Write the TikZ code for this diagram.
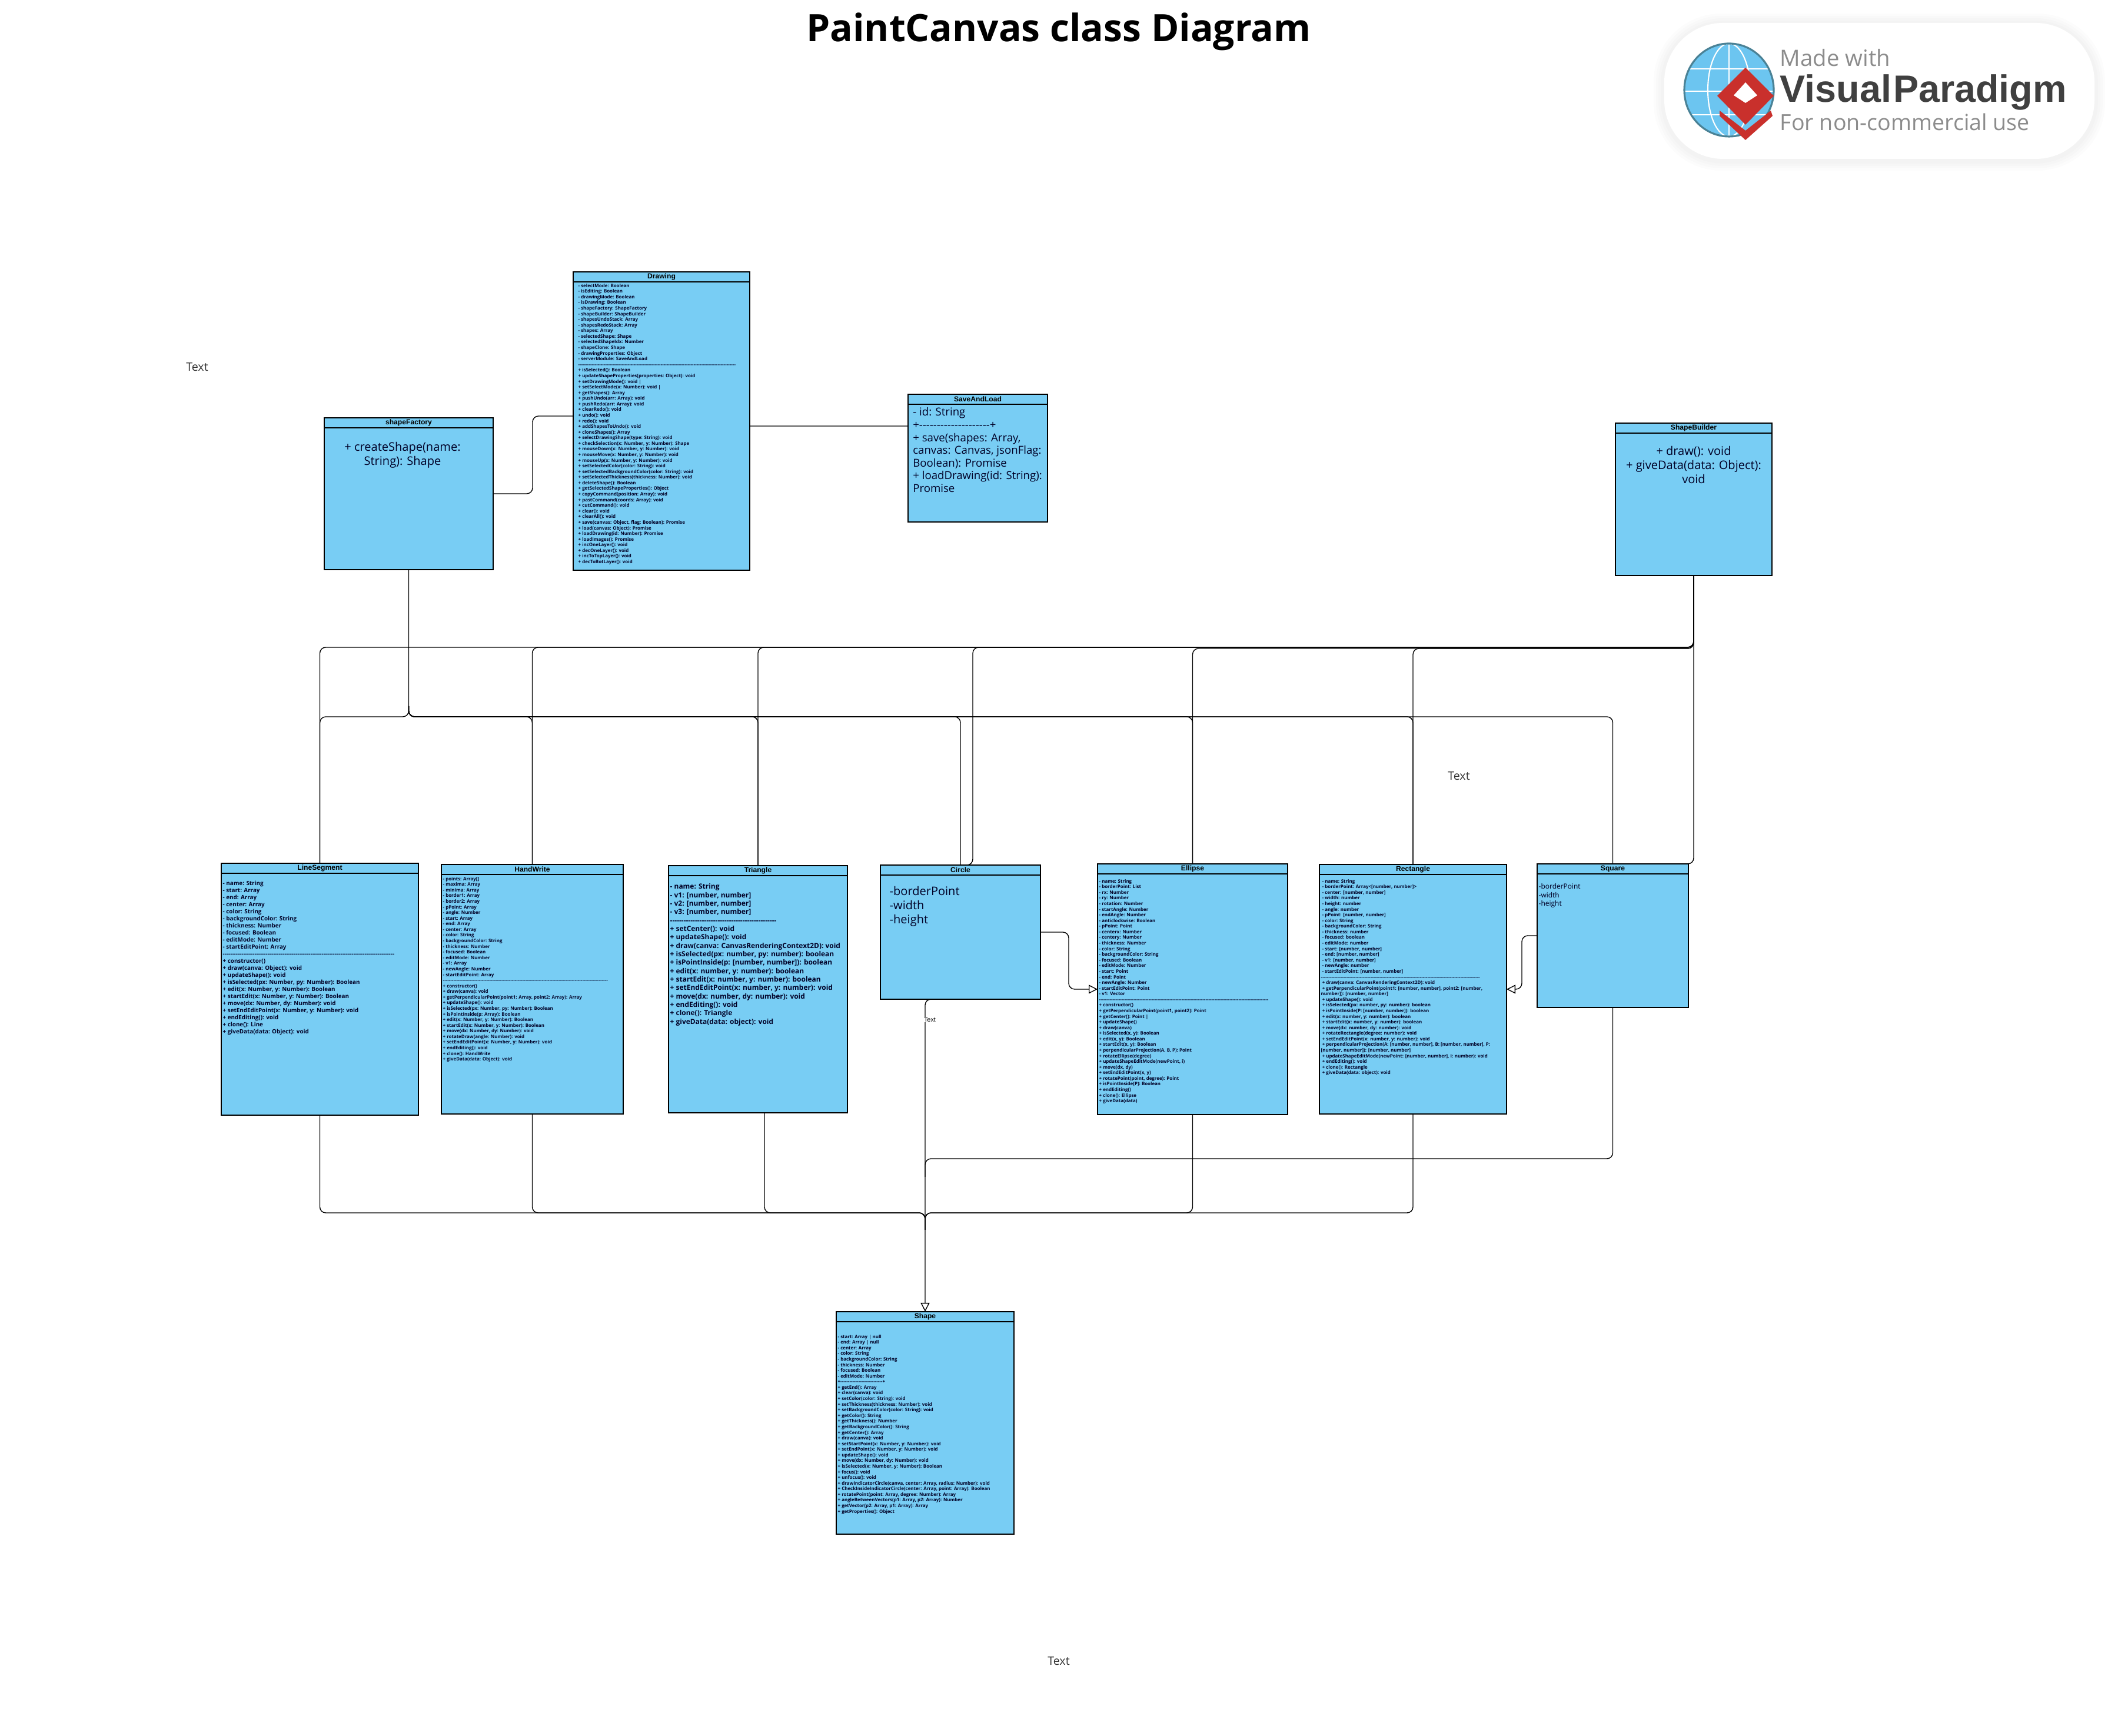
\documentclass[tikz,border=0pt]{standalone}
\usepackage{fontspec}
\newfontfamily\classfont{Open Sans}
\newfontfamily\headfont{Liberation Sans}
\usetikzlibrary{arrows.meta}
\definecolor{classblue}{HTML}{78CDF4}
\definecolor{logoblue}{HTML}{6CC5F0}
\definecolor{logoring}{HTML}{4A8296}
\definecolor{logored}{HTML}{C9302C}
\tikzset{
  classbox/.style={draw=black,fill=classblue,line width=0.6pt,anchor=north west,inner sep=0pt,outer sep=0pt},
  classhead/.style={draw=black,fill=classblue,line width=0.6pt,anchor=north,inner sep=0pt,outer sep=0pt,minimum height=0.17cm,font=\headfont\bfseries\fontsize{3.45}{4}\selectfont},
  bodytext/.style={anchor=north west,inner sep=0pt,align=left,text=black!85!blue},
  smalltext/.style={bodytext,font=\classfont\bfseries\fontsize{2.25}{2.725}\selectfont},
  linktext/.style={bodytext,font=\classfont\bfseries\fontsize{2.8}{3.41}\selectfont},
  tritext/.style={bodytext,font=\classfont\bfseries\fontsize{3.4}{4.08}\selectfont},
  bigtext/.style={bodytext,font=\classfont\fontsize{5.7}{6.8}\selectfont},
  savetext/.style={bodytext,font=\classfont\fontsize{5.3}{6.15}\selectfont},
  squaretext/.style={bodytext,font=\classfont\fontsize{3.4}{4.15}\selectfont},
  freetext/.style={font=\classfont\fontsize{5.6}{6.8}\selectfont,text=black!80},
  link/.style={line width=0.4pt,rounded corners=0.1cm},
  inherit/.style={link,-{Triangle[open,fill=white,length=0.15cm,width=0.15cm]}},
  logotext/.style={anchor=base west,inner sep=0pt,text=black!45}
}
\begin{document}
\begin{tikzpicture}
\useasboundingbox (0,0) rectangle (35.99,29.50);

\coordinate (upperbus) at (0,18.50);
\coordinate (upperbustwo) at (0,18.48);
\coordinate (lowerbus) at (0,17.32);
\coordinate (factorystem) at (6.945,17.50);
\coordinate (factoryturn) at (9.05,22.43);
\coordinate (circleturn) at (18.16,0);
\coordinate (squareturn) at (25.86,0);
\coordinate (busright) at (15.72,9.81);
\coordinate (mergeright) at (15.72,9.50);
\coordinate (buslong) at (15.72,8.89);
\coordinate (mergelong) at (15.72,8.60);

\node[classbox,minimum width=3.00cm,minimum height=5.07cm] (drawing) at (9.74,24.88) {};
\node[classbox,minimum width=2.87cm,minimum height=2.58cm] (shapefactory) at (5.51,22.40) {};
\node[classbox,minimum width=2.37cm,minimum height=2.17cm] (saveandload) at (15.43,22.80) {};
\node[classbox,minimum width=2.66cm,minimum height=2.59cm] (shapebuilder) at (27.45,22.31) {};
\node[classbox,minimum width=3.35cm,minimum height=4.28cm] (linesegment) at (3.76,14.83) {};
\node[classbox,minimum width=3.09cm,minimum height=4.24cm] (handwrite) at (7.50,14.81) {};
\node[classbox,minimum width=3.04cm,minimum height=4.20cm] (triangle) at (11.36,14.79) {};
\node[classbox,minimum width=2.72cm,minimum height=2.28cm] (circle) at (14.96,14.80) {};
\node[classbox,minimum width=3.23cm,minimum height=4.26cm] (ellipse) at (18.65,14.82) {};
\node[classbox,minimum width=3.18cm,minimum height=4.24cm] (rectangle) at (22.42,14.81) {};
\node[classbox,minimum width=2.57cm,minimum height=2.44cm] (square) at (26.12,14.82) {};
\node[classbox,minimum width=3.02cm,minimum height=3.78cm] (shape) at (14.21,7.21) {};

\node[classhead,minimum width=3.00cm] (drawinghead) at (drawing.north) {Drawing};
\node[classhead,minimum width=2.87cm] (shapefactoryhead) at (shapefactory.north) {shapeFactory};
\node[classhead,minimum width=2.37cm] (saveandloadhead) at (saveandload.north) {SaveAndLoad};
\node[classhead,minimum width=2.66cm] (shapebuilderhead) at (shapebuilder.north) {ShapeBuilder};
\node[classhead,minimum width=3.35cm] (linesegmenthead) at (linesegment.north) {LineSegment};
\node[classhead,minimum width=3.09cm] (handwritehead) at (handwrite.north) {HandWrite};
\node[classhead,minimum width=3.04cm] (trianglehead) at (triangle.north) {Triangle};
\node[classhead,minimum width=2.72cm] (circlehead) at (circle.north) {Circle};
\node[classhead,minimum width=3.23cm] (ellipsehead) at (ellipse.north) {Ellipse};
\node[classhead,minimum width=3.18cm] (rectanglehead) at (rectangle.north) {Rectangle};
\node[classhead,minimum width=2.57cm] (squarehead) at (square.north) {Square};
\node[classhead,minimum width=3.02cm] (shapehead) at (shape.north) {Shape};

\node[smalltext] (drawingbody) at (9.82,24.685) {- selectMode: Boolean\\
- isEditing: Boolean\\
- drawingMode: Boolean\\
- isDrawing: Boolean\\
- shapeFactory: ShapeFactory\\
- shapeBuilder: ShapeBuilder\\
- shapesUndoStack: Array\\
- shapesRedoStack: Array\\
- shapes: Array\\
- selectedShape: Shape\\
- selectedShapeIdx: Number\\
- shapeClone: Shape\\
- drawingProperties: Object\\
- serverModule: SaveAndLoad\\
---------------------------------------------------------------------------------------------------------\\
+ isSelected(): Boolean\\
+ updateShapeProperties(properties: Object): void\\
+ setDrawingMode(): void |\\
+ setSelectMode(x: Number): void |\\
+ getShapes(): Array\\
+ pushUndo(arr: Array): void\\
+ pushRedo(arr: Array): void\\
+ clearRedo(): void\\
+ undo(): void\\
+ redo(): void\\
+ addShapesToUndo(): void\\
+ cloneShapes(): Array\\
+ selectDrawingShape(type: String): void\\
+ checkSelection(x: Number, y: Number): Shape\\
+ mouseDown(x: Number, y: Number): void\\
+ mouseMove(x: Number, y: Number): void\\
+ mouseUp(x: Number, y: Number): void\\
+ setSelectedColor(color: String): void\\
+ setSelectedBackgroundColor(color: String): void\\
+ setSelectedThickness(thickness: Number): void\\
+ deleteShape(): Boolean\\
+ getSelectedShapeProperties(): Object\\
+ copyCommand(position: Array): void\\
+ pastCommand(coords: Array): void\\
+ cutCommand(): void\\
+ clear(): void\\
+ clearAll(): void\\
+ save(canvas: Object, flag: Boolean): Promise\\
+ load(canvas: Object): Promise\\
+ loadDrawing(id: Number): Promise\\
+ loadImages(): Promise\\
+ incOneLayer(): void\\
+ decOneLayer(): void\\
+ incToTopLayer(): void\\
+ decToBotLayer(): void};

\node[bigtext,anchor=north,align=center] (shapefactorybody) at (6.84,21.995) {+ createShape(name:\\String): Shape};

\node[savetext] (saveandloadbody) at (15.506,22.58) {- id: String\\
+--------------------+\\
+ save(shapes: Array,\\
canvas: Canvas, jsonFlag:\\
Boolean): Promise\\
+ loadDrawing(id: String):\\
Promise};

\node[bigtext,anchor=north,align=center] (shapebuilderbody) at (28.78,21.925) {+ draw(): void\\+ giveData(data: Object):\\void};

\node[linktext] (linesegmentbody) at (3.78,14.533) {- name: String\\
- start: Array\\
- end: Array\\
- center: Array\\
- color: String\\
- backgroundColor: String\\
- thickness: Number\\
- focused: Boolean\\
- editMode: Number\\
- startEditPoint: Array\\
--------------------------------------------------------------------------------------------\\
+ constructor()\\
+ draw(canva: Object): void\\
+ updateShape(): void\\
+ isSelected(px: Number, py: Number): Boolean\\
+ edit(x: Number, y: Number): Boolean\\
+ startEdit(x: Number, y: Number): Boolean\\
+ move(dx: Number, dy: Number): void\\
+ setEndEditPoint(x: Number, y: Number): void\\
+ endEditing(): void\\
+ clone(): Line\\
+ giveData(data: Object): void};

\node[smalltext] (handwritebody) at (7.52,14.605) {- points: Array[]\\
- maxima: Array\\
- minima: Array\\
- border1: Array\\
- border2: Array\\
- pPoint: Array\\
- angle: Number\\
- start: Array\\
- end: Array\\
- center: Array\\
- color: String\\
- backgroundColor: String\\
- thickness: Number\\
- focused: Boolean\\
- editMode: Number\\
- v1: Array\\
- newAngle: Number\\
- startEditPoint: Array\\
--------------------------------------------------------------------------------------------------------------\\
+ constructor()\\
+ draw(canva): void\\
+ getPerpendicularPoint(point1: Array, point2: Array): Array\\
+ updateShape(): void\\
+ isSelected(px: Number, py: Number): Boolean\\
+ isPointInside(p: Array): Boolean\\
+ edit(x: Number, y: Number): Boolean\\
+ startEdit(x: Number, y: Number): Boolean\\
+ move(dx: Number, dy: Number): void\\
+ rotateDraw(angle: Number): void\\
+ setEndEditPoint(x: Number, y: Number): void\\
+ endEditing(): void\\
+ clone(): HandWrite\\
+ giveData(data: Object): void};

\node[tritext] (trianglebody) at (11.38,14.49) {- name: String\\
- v1: [number, number]\\
- v2: [number, number]\\
- v3: [number, number]\\
-----------------------------------------------\\
+ setCenter(): void\\
+ updateShape(): void\\
+ draw(canva: CanvasRenderingContext2D): void\\
+ isSelected(px: number, py: number): boolean\\
+ isPointInside(p: [number, number]): boolean\\
+ edit(x: number, y: number): boolean\\
+ startEdit(x: number, y: number): boolean\\
+ setEndEditPoint(x: number, y: number): void\\
+ move(dx: number, dy: number): void\\
+ endEditing(): void\\
+ clone(): Triangle\\
+ giveData(data: object): void};

\node[bigtext] (circlebody) at (15.11,14.445) {-borderPoint\\-width\\-height};

\node[smalltext] (ellipsebody) at (18.67,14.565) {- name: String\\
- borderPoint: List\\
- rx: Number\\
- ry: Number\\
- rotation: Number\\
- startAngle: Number\\
- endAngle: Number\\
- anticlockwise: Boolean\\
- pPoint: Point\\
- centerx: Number\\
- centery: Number\\
- thickness: Number\\
- color: String\\
- backgroundColor: String\\
- focused: Boolean\\
- editMode: Number\\
- start: Point\\
- end: Point\\
- newAngle: Number\\
- startEditPoint: Point\\
- v1: Vector\\
-----------------------------------------------------------------------------------------------------------------\\
+ constructor()\\
+ getPerpendicularPoint(point1, point2): Point\\
+ getCenter(): Point |\\
+ updateShape()\\
+ draw(canva)\\
+ isSelected(x, y): Boolean\\
+ edit(x, y): Boolean\\
+ startEdit(x, y): Boolean\\
+ perpendicularProjection(A, B, P): Point\\
+ rotateEllipse(degree)\\
+ updateShapeEditMode(newPoint, i)\\
+ move(dx, dy)\\
+ setEndEditPoint(x, y)\\
+ rotatePoint(point, degree): Point\\
+ isPointInside(P): Boolean\\
+ endEditing()\\
+ clone(): Ellipse\\
+ giveData(data)};

\node[smalltext] (rectanglebody) at (22.44,14.565) {\ - name: String\\
\ - borderPoint: Array<[number, number]>\\
\ - center: [number, number]\\
\ - width: number\\
\ - height: number\\
\ - angle: number\\
\ - pPoint: [number, number]\\
\ - color: String\\
\ - backgroundColor: String\\
\ - thickness: number\\
\ - focused: boolean\\
\ - editMode: number\\
\ - start: [number, number]\\
\ - end: [number, number]\\
\ - v1: [number, number]\\
\ - newAngle: number\\
\ - startEditPoint: [number, number]\\
----------------------------------------------------------------------------------------------------------\\
\ + draw(canva: CanvasRenderingContext2D): void\\
\ + getPerpendicularPoint(point1: [number, number], point2: [number,\\
number]): [number, number]\\
\ + updateShape(): void\\
\ + isSelected(px: number, py: number): boolean\\
\ + isPointInside(P: [number, number]): boolean\\
\ + edit(x: number, y: number): boolean\\
\ + startEdit(x: number, y: number): boolean\\
\ + move(dx: number, dy: number): void\\
\ + rotateRectangle(degree: number): void\\
\ + setEndEditPoint(x: number, y: number): void\\
\ + perpendicularProjection(A: [number, number], B: [number, number], P:\\
{[}number, number]): [number, number]\\
\ + updateShapeEditMode(newPoint: [number, number], i: number): void\\
\ + endEditing(): void\\
\ + clone(): Rectangle\\
\ + giveData(data: object): void};

\node[squaretext] (squarebody) at (26.14,14.49) {-borderPoint\\-width\\-height};

\node[smalltext] (shapebody) at (14.23,6.825) {- start: Array | null\\
- end: Array | null\\
- center: Array\\
- color: String\\
- backgroundColor: String\\
- thickness: Number\\
- focused: Boolean\\
- editMode: Number\\
+----------------------------+\\
+ getEnd(): Array\\
+ clear(canva): void\\
+ setColor(color: String): void\\
+ setThickness(thickness: Number): void\\
+ setBackgroundColor(color: String): void\\
+ getColor(): String\\
+ getThickness(): Number\\
+ getBackgroundColor(): String\\
+ getCenter(): Array\\
+ draw(canva): void\\
+ setStartPoint(x: Number, y: Number): void\\
+ setEndPoint(x: Number, y: Number): void\\
+ updateShape(): void\\
+ move(dx: Number, dy: Number): void\\
+ isSelected(x: Number, y: Number): Boolean\\
+ focus(): void\\
+ unfocus(): void\\
+ drawIndicatorCircle(canva, center: Array, radius: Number): void\\
+ CheckInsideIndicatorCircle(center: Array, point: Array): Boolean\\
+ rotatePoint(point: Array, degree: Number): Array\\
+ angleBetweenVectors(p1: Array, p2: Array): Number\\
+ getVector(p2: Array, p1: Array): Array\\
+ getProperties(): Object};

\draw[link] (shapefactory.east) -| (factoryturn) -- (factoryturn -| drawing.west);
\draw[link] ([yshift=-0.085cm]drawing.east) -- ([yshift=0.545cm]saveandload.west);

\draw[link] (shapefactory.south) -- (factorystem);
\draw[link] (factorystem) -- (factorystem |- lowerbus) -| (linesegment.north);
\draw[link] (factorystem) -- (factorystem |- lowerbus) -| (handwrite.north);
\draw[link] (factorystem) -- (factorystem |- lowerbus) -| (triangle.north);
\draw[link] (factorystem) -- (factorystem |- lowerbus) -| (circle.north);
\draw[link] (factorystem) -- (factorystem |- lowerbus) -| (ellipse.north);
\draw[link] (factorystem) -- (factorystem |- lowerbus) -| (rectangle.north);
\draw[link] (factorystem) -- (factorystem |- lowerbus) -| (square.north);

\draw[link] (shapebuilder.south) -- (shapebuilder.south |- upperbus) -| (linesegment.north);
\draw[link] (shapebuilder.south) -- (shapebuilder.south |- upperbus) -| (handwrite.north);
\draw[link] (shapebuilder.south) -- (shapebuilder.south |- upperbus) -| (triangle.north);
\draw[link] (shapebuilder.south) -- (shapebuilder.south |- upperbus) -| ([xshift=0.21cm]circle.north) -- (circle.north);
\draw[link] (shapebuilder.south) -- (shapebuilder.south |- upperbustwo) -| (ellipse.north);
\draw[link] (shapebuilder.south) -- (shapebuilder.south |- upperbustwo) -| (rectangle.north);
\draw[link] (shapebuilder.south) |- (square.north east);

\draw[inherit] (circle.east) -- (circle.east -| circleturn) |- (ellipse.west);
\draw[inherit] (square.west) -- (square.west -| squareturn) |- (rectangle.east);

\draw[inherit] (circle.south) -| (shape.north);
\draw[link] (square.south) |- (busright) -- (mergeright);
\draw[link] (rectangle.south) |- (buslong) -- (mergelong);
\draw[link] (ellipse.south) |- (buslong) -- (mergelong);
\draw[link] ([xshift=0.11cm]triangle.south) |- (buslong) -- (mergelong);
\draw[link] (handwrite.south) |- (buslong) -- (mergelong);
\draw[link] (linesegment.south) |- (buslong) -- (mergelong);

\node[fill=white,inner sep=0.2pt,font=\headfont\fontsize{3.1}{3.6}\selectfont,text=black] (circlelabel) at (15.80,12.17) {Text};

\node[anchor=base,font=\classfont\bfseries\fontsize{18.25}{22}\selectfont] (title) at (17.99,28.79) {PaintCanvas class Diagram};
\node[freetext] (labelone) at (3.35,23.26) {Text};
\node[freetext] (labeltwo) at (24.79,16.31) {Text};
\node[freetext] (labelthree) at (17.99,1.27) {Text};

\fill[black,opacity=0.012,rounded corners=1.15cm] (28.10,26.60) rectangle (35.77,29.27);
\fill[black,opacity=0.012,rounded corners=1.12cm] (28.14,26.64) rectangle (35.73,29.23);
\fill[black,opacity=0.012,rounded corners=1.09cm] (28.18,26.68) rectangle (35.69,29.19);
\fill[black,opacity=0.012,rounded corners=1.06cm] (28.22,26.72) rectangle (35.65,29.15);
\fill[white,rounded corners=1.00cm] (28.28,26.80) rectangle (35.59,29.11);

\fill[logoblue] (29.38,27.97) ellipse (0.76cm and 0.79cm);
\begin{scope}
\clip (29.38,27.97) ellipse (0.76cm and 0.79cm);
\draw[white,line width=0.6pt] (28.50,28.33) -- (30.20,28.33);
\draw[white,line width=0.6pt] (28.50,27.95) -- (30.20,27.95);
\draw[white,line width=0.6pt] (28.50,27.55) -- (30.20,27.55);
\draw[white,line width=0.6pt] (29.38,27.10) -- (29.38,28.80);
\draw[white,line width=0.6pt] (29.38,27.97) ellipse (0.36cm and 0.79cm);
\end{scope}
\draw[logoring,line width=0.9pt] (29.38,27.97) ellipse (0.76cm and 0.79cm);
\fill[logored] (29.66,28.35) -- (30.14,27.87) -- (29.66,27.38) -- (29.18,27.87) -- cycle;
\fill[white] (29.66,28.10) -- (29.86,27.88) -- (29.66,27.75) -- (29.46,27.88) -- cycle;
\fill[logored] (29.22,27.62) -- (29.66,27.28) -- (30.09,27.62) -- (30.12,27.53) -- (29.66,27.12) -- (29.22,27.53) -- cycle;

\node[logotext,font=\classfont\fontsize{10.9}{13}\selectfont] (madewith) at (30.24,28.37) {Made with};
\node[logotext,text=black!75,font=\headfont\bfseries\fontsize{18.4}{22}\selectfont] (logoname) at (30.24,27.76) {Visual\hspace{0.05em}Paradigm};
\node[logotext,font=\classfont\fontsize{10.7}{13}\selectfont] (logonote) at (30.24,27.28) {For non-commercial use};
\end{tikzpicture}
\end{document}
